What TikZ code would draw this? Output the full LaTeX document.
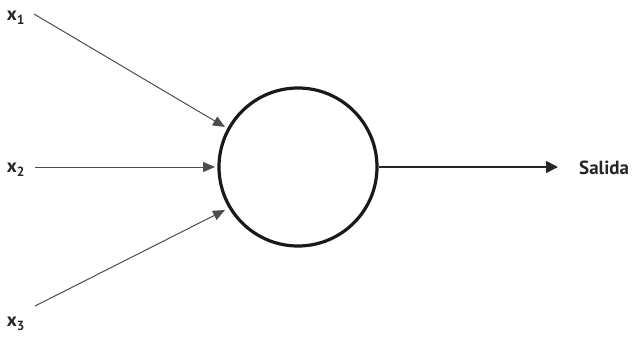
\documentclass[tikz,border=0pt]{standalone}
\usepackage{fontspec}
\setmainfont{PT Sans}
\usetikzlibrary{arrows.meta}
\begin{document}
\begin{tikzpicture}[x=1pt,y=-1pt,
  lbl/.style={font=\bfseries\fontsize{19}{21}\selectfont, text=black!85, inner sep=0pt},
  inarrow/.style={draw=black!70, line width=1pt, -{Triangle[length=12pt,width=10pt]}},
  outarrow/.style={draw=black!85, line width=1.8pt, -{Triangle[length=12pt,width=12pt]}},
  neuron/.style={circle, draw=black!90, line width=3.2pt, minimum size=158pt, inner sep=0pt}]
\useasboundingbox (0,0) rectangle (640,338);
\node[neuron] (n) at (298,167) {};
\node[lbl] (x1) at (16,18) {x\textsubscript{1}};
\node[lbl] (x2) at (16,170) {x\textsubscript{2}};
\node[lbl] (x3) at (16,324) {x\textsubscript{3}};
\node[lbl, anchor=west] (out) at (579,168) {Salida};
\coordinate (s1) at (34,14);
\coordinate (s2) at (35,167);
\coordinate (s3) at (35,306);
\coordinate (e1) at (225,127);
\coordinate (e2) at (215,167);
\coordinate (e3) at (225,210);
\coordinate (e4) at (558,167);
\draw[inarrow] (s1) -- (e1);
\draw[inarrow] (s2) -- (e2);
\draw[inarrow] (s3) -- (e3);
\draw[outarrow] (n.east) -- (e4);
\end{tikzpicture}
\end{document}
